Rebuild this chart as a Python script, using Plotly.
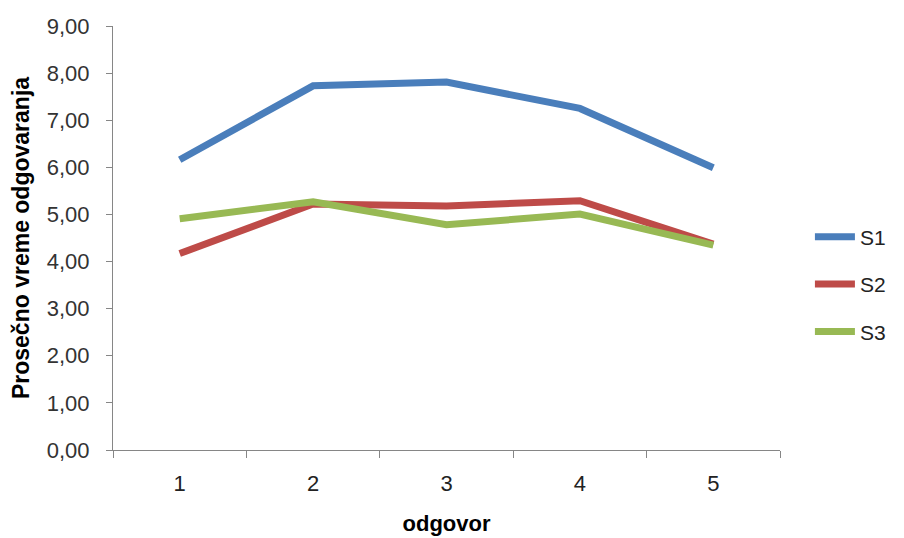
import plotly.graph_objects as go

categories = ["1", "2", "3", "4", "5"]
s1 = [6.16, 7.73, 7.81, 7.25, 5.99]
s2 = [4.17, 5.22, 5.18, 5.29, 4.37]
s3 = [4.91, 5.27, 4.78, 5.01, 4.35]
series_names = ["S1", "S2", "S3"]
colors = ["#4a7ebb", "#be4b48", "#98b954"]
y_ticks = [0, 1, 2, 3, 4, 5, 6, 7, 8, 9]

fig = go.Figure()
for i, (name, vals) in enumerate(zip(series_names, [s1, s2, s3])):
    fig.add_trace(go.Scatter(
        x=categories, y=vals, mode="lines", name=name,
        line=dict(color=colors[i], width=7),
        legendgroup=name,
    ))

font_family = "Liberation Sans, Arial, sans-serif"
fig.update_layout(
    width=896, height=530,
    margin=dict(l=105, r=124, t=18, b=88, autoexpand=False),
    paper_bgcolor="white", plot_bgcolor="white",
    separators=", ",
    font=dict(family=font_family, size=20, color="#404040"),
    showlegend=True,
    legend=dict(
        xref="container", yref="container",
        x=0.895, y=0.479, xanchor="left", yanchor="middle",
        font=dict(size=21, color="#222222"),
        tracegroupgap=17, itemwidth=40,
        bgcolor="rgba(0,0,0,0)",
    ),
    xaxis=dict(
        type="category", range=[-0.5, 4.5], showgrid=False, showline=True,
        linecolor="#868686", linewidth=1, ticks="outside", ticklen=7,
        tickcolor="#868686", tickson="boundaries", ticklabelstandoff=14,
        automargin=False,
        tickfont=dict(size=22, color="#222222"),
        title=dict(text="<b>odgovor</b>", font=dict(size=22, color="#000000"), standoff=20),
    ),
    yaxis=dict(
        range=[0, 9], tickvals=y_ticks, tickformat=".2f", showgrid=False,
        showline=True, linecolor="#868686", linewidth=1, ticks="outside",
        ticklen=6, tickcolor="#868686", zeroline=False, ticklabelstandoff=12,
        automargin=False,
        tickfont=dict(size=22, color="#333333"),
        title=dict(text="<b>Prosečno vreme odgovaranja</b>", font=dict(size=23, color="#000000"), standoff=10),
    ),
)

fig.write_html("out.html")
